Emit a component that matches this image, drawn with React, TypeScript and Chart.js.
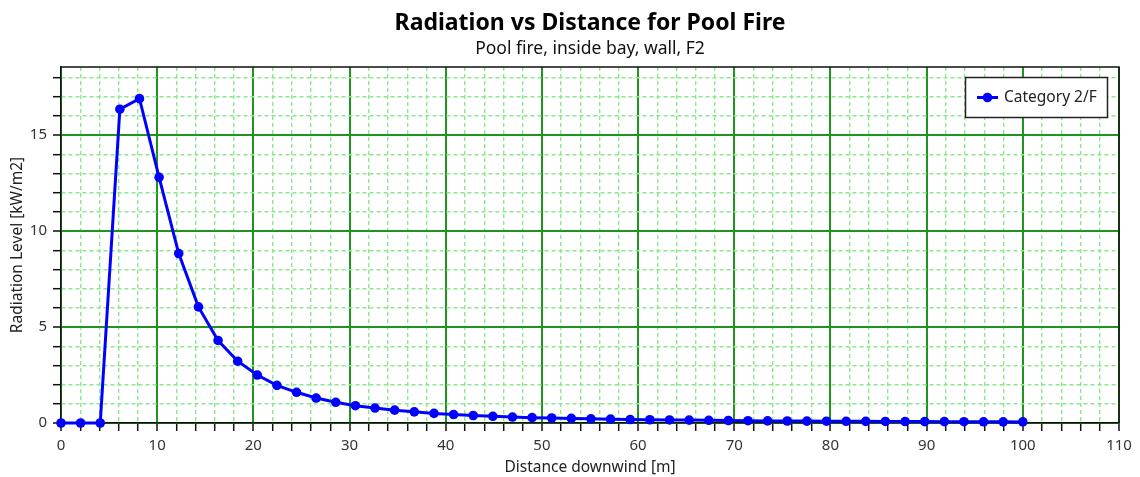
import React, { useEffect, useRef } from 'react';
import { Chart, registerables } from 'chart.js';

Chart.register(...registerables);

// ---- data ----
const distances = [
  0, 2.04, 4.08, 6.12, 8.16, 10.2, 12.24, 14.29, 16.33, 18.37,
  20.41, 22.45, 24.49, 26.53, 28.57, 30.61, 32.65, 34.69, 36.73, 38.78,
  40.82, 42.86, 44.9, 46.94, 48.98, 51.02, 53.06, 55.1, 57.14, 59.18,
  61.22, 63.27, 65.31, 67.35, 69.39, 71.43, 73.47, 75.51, 77.55, 79.59,
  81.63, 83.67, 85.71, 87.76, 89.8, 91.84, 93.88, 95.92, 97.96, 100,
];
const radiation = [
  0, 0, 0, 16.35, 16.9, 12.8, 8.83, 6.05, 4.3, 3.22,
  2.5, 1.96, 1.6, 1.3, 1.08, 0.9, 0.78, 0.67, 0.58, 0.5,
  0.44, 0.39, 0.35, 0.31, 0.28, 0.26, 0.24, 0.22, 0.2, 0.18,
  0.17, 0.16, 0.15, 0.14, 0.13, 0.12, 0.11, 0.105, 0.1, 0.095,
  0.09, 0.085, 0.08, 0.077, 0.073, 0.07, 0.067, 0.064, 0.061, 0.058,
];
const seriesLabel = 'Category 2/F';
const chartTitle = 'Radiation vs Distance for Pool Fire';
const chartSubtitle = 'Pool fire, inside bay, wall, F2';
const xAxisTitle = 'Distance downwind [m]';
const yAxisTitle = 'Radiation Level [kW/m2]';
const xRange = [0, 110];
const yRange = [0, 18.55];

const FONT = '"Noto Sans", sans-serif';
const MAJOR = 'rgb(30,150,30)';
const MINOR = 'rgb(140,232,140)';

export default function App() {
  const ref = useRef<HTMLCanvasElement>(null);

  useEffect(() => {
    document.body.style.margin = '0';
    const canvas = ref.current;
    if (!canvas) return;

    const framePlugin = {
      id: 'frame',
      afterDatasetsDraw(chart: any) {
        const { ctx, chartArea: a } = chart;
        ctx.save();
        ctx.strokeStyle = '#111';
        ctx.lineWidth = 1.5;
        ctx.setLineDash([]);
        ctx.beginPath();
        ctx.moveTo(a.left, a.top);
        ctx.lineTo(a.right, a.top);
        ctx.lineTo(a.right, a.bottom);
        ctx.stroke();
        ctx.restore();
      },
    };

    const legendPlugin = {
      id: 'insideLegend',
      afterDraw(chart: any) {
        const ds = chart.data.datasets[0];
        const { ctx, chartArea: a } = chart;
        ctx.save();
        ctx.setLineDash([]);
        ctx.font = `15.5px ${FONT}`;
        const tw = ctx.measureText(ds.label).width;
        const w = Math.round(39 + tw + 11);
        const h = 41;
        const x = Math.round(a.right - 11 - w);
        const y = Math.round(a.top + 10);
        ctx.fillStyle = '#fff';
        ctx.fillRect(x, y, w, h);
        ctx.strokeStyle = '#222';
        ctx.lineWidth = 1.5;
        ctx.strokeRect(x + 0.5, y + 0.5, w - 1, h - 1);
        const cy = y + h / 2;
        ctx.strokeStyle = ds.borderColor;
        ctx.lineWidth = 3;
        ctx.beginPath();
        ctx.moveTo(x + 12, cy);
        ctx.lineTo(x + 33, cy);
        ctx.stroke();
        ctx.fillStyle = ds.borderColor;
        ctx.beginPath();
        ctx.arc(x + 22.5, cy, 4.8, 0, Math.PI * 2);
        ctx.fill();
        ctx.fillStyle = '#222';
        ctx.textBaseline = 'middle';
        ctx.textAlign = 'left';
        ctx.fillText(ds.label, x + 39, cy + 0.5);
        ctx.restore();
      },
    };

    const isMajor = (c: any, every: number) =>
      !!c.tick && Math.abs(c.tick.value / every - Math.round(c.tick.value / every)) < 1e-6;

    const chart = new Chart(canvas, {
      type: 'line',
      data: {
        datasets: [
          {
            label: seriesLabel,
            data: distances.map((d, i) => ({ x: d, y: radiation[i] })),
            borderColor: '#0000ff',
            backgroundColor: '#0000ff',
            borderWidth: 3,
            pointRadius: 4.8,
            pointBorderWidth: 0,
            pointBackgroundColor: '#0000ff',
            tension: 0,
            clip: false,
          } as any,
        ],
      },
      options: {
        responsive: false,
        animation: false,
        layout: { padding: { left: 0, right: 21, top: 0, bottom: 0 } },
        plugins: {
          legend: { display: false },
          tooltip: { enabled: false },
          title: {
            display: true,
            fullSize: false,
            text: chartTitle,
            color: '#000',
            font: { family: FONT, size: 23, weight: 'bold' },
            padding: { top: 10, bottom: 0 },
          },
          subtitle: {
            display: true,
            fullSize: false,
            text: chartSubtitle,
            color: '#111',
            font: { family: FONT, size: 17.5 },
            padding: { top: 1, bottom: 7.4 },
          },
        },
        scales: {
          x: {
            type: 'linear',
            min: xRange[0],
            max: xRange[1],
            ticks: {
              stepSize: 2,
              autoSkip: false,
              maxRotation: 0,
              includeBounds: false,
              padding: 6,
              color: '#333',
              font: { family: FONT, size: 15 },
              callback: (v: any) => (Number(v) % 10 === 0 ? String(v) : ''),
            },
            grid: {
              color: (c: any) => (isMajor(c, 10) ? MAJOR : MINOR),
              lineWidth: (c: any) => (isMajor(c, 10) ? 2 : 1.4),
              tickColor: '#111',
              tickWidth: 1.5,
              tickLength: 8,
            },
            border: {
              color: '#111',
              width: 1.5,
              dash: (c: any) => (c.tick && !isMajor(c, 10) ? [4, 3] : []),
            },
            title: {
              display: true,
              text: xAxisTitle,
              color: '#222',
              font: { family: FONT, size: 15.5 },
              padding: { top: 0, bottom: 0 },
            },
            afterFit: (s: any) => {
              s.height = 54;
            },
          },
          y: {
            type: 'linear',
            min: yRange[0],
            max: yRange[1],
            ticks: {
              stepSize: 1,
              autoSkip: false,
              includeBounds: false,
              padding: 6,
              color: '#333',
              font: { family: FONT, size: 15 },
              callback: (v: any) => (Number(v) % 5 === 0 ? String(v) : ''),
            },
            grid: {
              color: (c: any) => (isMajor(c, 5) ? MAJOR : MINOR),
              lineWidth: (c: any) => (isMajor(c, 5) ? 2 : 1.4),
              tickColor: '#111',
              tickWidth: 1.5,
              tickLength: 8,
            },
            border: {
              color: '#111',
              width: 1.5,
              dash: (c: any) => (c.tick && !isMajor(c, 5) ? [4, 3] : []),
            },
            title: {
              display: true,
              text: yAxisTitle,
              color: '#222',
              font: { family: FONT, size: 15.5 },
              padding: { top: 8, bottom: 0 },
            },
            afterFit: (s: any) => {
              s.width = 61;
            },
          },
        },
      } as any,
      plugins: [framePlugin, legendPlugin],
    });

    return () => chart.destroy();
  }, []);

  return (
    <canvas
      ref={ref}
      width={1140}
      height={477}
      style={{ display: 'block', width: 1140, height: 477 }}
    />
  );
}
